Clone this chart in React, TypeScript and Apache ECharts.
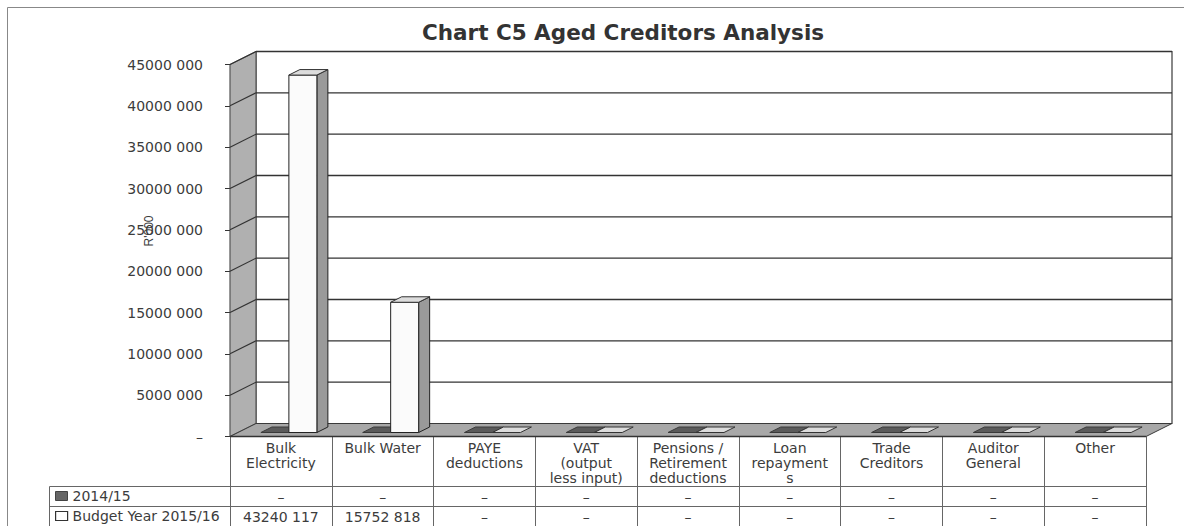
import React, { useEffect, useRef } from "react";
import * as echarts from "echarts";

// ---- data ----
const categories = [
  "Bulk\nElectricity",
  "Bulk Water",
  "PAYE\ndeductions",
  "VAT\n(output\nless input)",
  "Pensions /\nRetirement\ndeductions",
  "Loan\nrepayment\ns",
  "Trade\nCreditors",
  "Auditor\nGeneral",
  "Other",
];
const seriesNames = ["2014/15", "Budget Year 2015/16"];
const values2014 = [0, 0, 0, 0, 0, 0, 0, 0, 0];
const valuesBudget = [43240117, 15752818, 0, 0, 0, 0, 0, 0, 0];
const yMin = 0;
const yMax = 45000000;
const yStep = 5000000;
const yTickValues = [0, 5000000, 10000000, 15000000, 20000000, 25000000, 30000000, 35000000, 40000000, 45000000];
const titleText = "Chart C5 Aged Creditors Analysis";
const yAxisTitle = "R'000";

// ---- styling constants ----
const FONT = "DejaVu Sans";
const TEXT = "#3c3c3c";
const WALL_DX = 26;
const WALL_DY = -13;
const FRONT_DX = 8;
const FRONT_DY = -4;
const BAR_DX = 11;
const BAR_DY = -5.5;
const BAR_FRAC = 0.275;

function fmt(v: number): string {
  if (v === 0) return "–";
  const hi = Math.floor(v / 1000);
  const lo = String(v % 1000).padStart(3, "0");
  return `${hi} ${lo}`;
}

function wallsRender(params: any, api: any) {
  const cs = params.coordSys;
  const x = cs.x, y = cs.y, w = cs.width, h = cs.height;
  const children: any[] = [];
  children.push({
    type: "rect",
    shape: { x: x + WALL_DX, y: y + WALL_DY, width: w, height: h },
    style: { fill: "#ffffff", stroke: "#3a3a3a", lineWidth: 1.2 },
  });
  children.push({
    type: "polygon",
    shape: {
      points: [
        [x, y + h],
        [x, y],
        [x + WALL_DX, y + WALL_DY],
        [x + WALL_DX, y + h + WALL_DY],
      ],
    },
    style: { fill: "#b0b0b0", stroke: "#444", lineWidth: 1 },
  });
  children.push({
    type: "polygon",
    shape: {
      points: [
        [x, y + h],
        [x + WALL_DX, y + h + WALL_DY],
        [x + w + WALL_DX, y + h + WALL_DY],
        [x + w, y + h],
      ],
    },
    style: { fill: "#a8a8a8", stroke: "#3a3a3a", lineWidth: 1 },
  });
  yTickValues.forEach((t) => {
    if (t === 0) return;
    const yy = api.coord([0, t])[1];
    children.push({
      type: "line",
      shape: { x1: x + WALL_DX, y1: yy + WALL_DY, x2: x + w + WALL_DX, y2: yy + WALL_DY },
      style: { stroke: "#333", lineWidth: 1.3 },
    });
    children.push({
      type: "line",
      shape: { x1: x, y1: yy, x2: x + WALL_DX, y2: yy + WALL_DY },
      style: { stroke: "#333", lineWidth: 1.2 },
    });
  });
  children.push({
    type: "line",
    shape: { x1: x, y1: y + h, x2: x + w, y2: y + h },
    style: { stroke: "#333", lineWidth: 1.5 },
  });
  return { type: "group", children };
}

function makeBarRender(side: number, dark: boolean) {
  return (params: any, api: any) => {
    const i = api.value(0);
    const v = api.value(1);
    const base = api.coord([i, 0]);
    const top = api.coord([i, v]);
    const bw = api.size([1, 0])[0];
    const w = bw * BAR_FRAC;
    const x0 = base[0] + (side === 0 ? -w : 0) + FRONT_DX;
    const yb = base[1] + FRONT_DY;
    const yt = top[1] + FRONT_DY;
    const children: any[] = [];
    const stroke = "#222";
    if (yb - yt > 0.5) {
      children.push({
        type: "polygon",
        shape: {
          points: [
            [x0 + w, yt],
            [x0 + w + BAR_DX, yt + BAR_DY],
            [x0 + w + BAR_DX, yb + BAR_DY],
            [x0 + w, yb],
          ],
        },
        style: { fill: dark ? "#444" : "#9a9a9a", stroke, lineWidth: 1 },
      });
      children.push({
        type: "rect",
        shape: { x: x0, y: yt, width: w, height: yb - yt },
        style: { fill: dark ? "#666" : "#fbfbfb", stroke, lineWidth: 1 },
      });
    }
    children.push({
      type: "polygon",
      shape: {
        points: [
          [x0, yt],
          [x0 + BAR_DX, yt + BAR_DY],
          [x0 + w + BAR_DX, yt + BAR_DY],
          [x0 + w, yt],
        ],
      },
      style: {
        fill: dark ? "#5a5a5a" : "#dcdcdc",
        stroke: dark ? "#3a3a3a" : "#333",
        lineWidth: 1,
      },
    });
    return { type: "group", children };
  };
}

export default function App() {
  const ref = useRef<HTMLDivElement>(null);
  useEffect(() => {
    if (!ref.current) return;
    const chart = echarts.init(ref.current, undefined, { renderer: "svg" });
    const labelStyle = { fontFamily: FONT, fontSize: 14, color: TEXT };
    const legendBase = {
      orient: "horizontal",
      left: 55,
      padding: 0,
      itemWidth: 12,
      itemHeight: 9,
      textStyle: { fontFamily: FONT, fontSize: 14, color: TEXT },
    };
    chart.setOption({
      animation: false,
      backgroundColor: "#ffffff",
      title: {
        text: titleText,
        left: 618,
        textAlign: "center",
        top: 16,
        textStyle: { fontFamily: FONT, fontSize: 21.5, fontWeight: "bold", color: "#333" },
      },
      legend: [
        {
          ...legendBase,
          top: 489,
          data: [
            { name: seriesNames[0], icon: "rect", itemStyle: { color: "#666", borderColor: "#444", borderWidth: 1 } },
          ],
        },
        {
          ...legendBase,
          top: 509,
          data: [
            { name: seriesNames[1], icon: "rect", itemStyle: { color: "#fff", borderColor: "#333", borderWidth: 1.2 } },
          ],
        },
      ],
      grid: { left: 230, top: 64.5, width: 916, height: 372 },
      xAxis: [
        {
          type: "category",
          data: categories,
          position: "bottom",
          axisLine: { show: true, lineStyle: { color: "#555" } },
          axisTick: { show: true, length: 90, lineStyle: { color: "#666" } },
          axisLabel: { ...labelStyle, interval: 0, margin: 4, lineHeight: 15, verticalAlign: "top" },
          splitLine: { show: false },
        },
        {
          type: "category",
          data: values2014.map(fmt),
          position: "bottom",
          offset: 50,
          axisLine: { show: true, lineStyle: { color: "#666" } },
          axisTick: { show: false },
          axisLabel: { ...labelStyle, interval: 0, margin: 3, verticalAlign: "top" },
        },
        {
          type: "category",
          data: valuesBudget.map(fmt),
          position: "bottom",
          offset: 70,
          axisLine: { show: true, lineStyle: { color: "#666" } },
          axisTick: { show: false },
          axisLabel: { ...labelStyle, interval: 0, margin: 3, verticalAlign: "top" },
        },
      ],
      yAxis: {
        type: "value",
        min: yMin,
        max: yMax,
        interval: yStep,
        axisLine: { show: true, lineStyle: { color: "#333", width: 1.2 } },
        axisTick: { show: true, length: 5, lineStyle: { color: "#333" } },
        axisLabel: { ...labelStyle, margin: 27, formatter: (v: number) => fmt(v) },
        splitLine: { show: false },
      },
      graphic: [
        {
          type: "polyline",
          shape: { points: [[7.5, 526], [7.5, 7.5], [1184, 7.5]] },
          style: { stroke: "#888", lineWidth: 1, fill: "none" },
          silent: true,
        },
        {
          type: "polyline",
          shape: { points: [[230, 486.5], [49.5, 486.5], [49.5, 526]] },
          style: { stroke: "#666", lineWidth: 1, fill: "none" },
          silent: true,
        },
        {
          type: "line",
          shape: { x1: 49.5, y1: 506.5, x2: 230, y2: 506.5 },
          style: { stroke: "#666", lineWidth: 1 },
          silent: true,
        },
        {
          type: "text",
          x: 149,
          y: 231,
          rotation: Math.PI / 2,
          style: {
            text: yAxisTitle,
            fontFamily: "Liberation Sans",
            fontSize: 12,
            fill: TEXT,
            align: "center",
            verticalAlign: "middle",
          },
          z: 10,
        },
      ],
      series: [
        {
          type: "custom",
          name: "walls",
          renderItem: wallsRender,
          data: [[0, 0]],
          silent: true,
          z: 1,
        },
        {
          type: "custom",
          name: seriesNames[0],
          renderItem: makeBarRender(0, true),
          data: values2014.map((v, i) => [i, v]),
          itemStyle: { color: "#666" },
          z: 2,
        },
        {
          type: "custom",
          name: seriesNames[1],
          renderItem: makeBarRender(1, false),
          data: valuesBudget.map((v, i) => [i, v]),
          itemStyle: { color: "#fff" },
          z: 3,
        },
      ],
    });
    return () => chart.dispose();
  }, []);
  return (
    <div
      ref={ref}
      style={{ position: "fixed", left: 0, top: 0, width: 1184, height: 526 }}
    />
  );
}
